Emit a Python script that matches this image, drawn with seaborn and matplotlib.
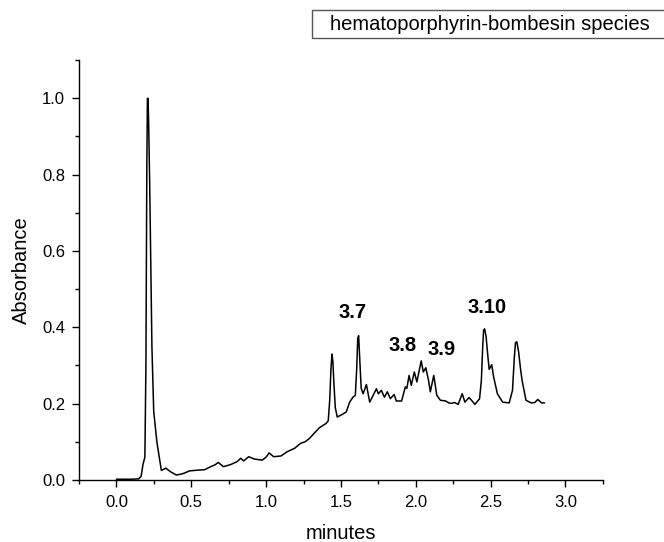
import matplotlib
matplotlib.use("Agg")
import matplotlib.pyplot as plt
import seaborn as sns
import pandas as pd
from matplotlib.patches import Rectangle
from matplotlib.ticker import MultipleLocator

minutes = [0.00, 0.10, 0.15, 0.165, 0.177, 0.19, 0.197, 0.203, 0.207, 0.211, 0.215, 0.222,
           0.229, 0.237, 0.249, 0.27, 0.29, 0.30, 0.315, 0.33, 0.36, 0.40, 0.44, 0.49, 0.55,
           0.59, 0.63, 0.66, 0.68, 0.715, 0.76, 0.806, 0.83, 0.85, 0.884, 0.92, 0.974, 1.00,
           1.02, 1.05, 1.10, 1.14, 1.19, 1.23, 1.26, 1.29, 1.32, 1.356, 1.40, 1.415, 1.425,
           1.433, 1.440, 1.446, 1.452, 1.462, 1.475, 1.50, 1.535, 1.558, 1.58, 1.596, 1.605,
           1.612, 1.618, 1.625, 1.635, 1.648, 1.67, 1.692, 1.715, 1.737, 1.75, 1.77, 1.79,
           1.81, 1.83, 1.855, 1.87, 1.905, 1.93, 1.94, 1.955, 1.97, 1.99, 2.007, 2.036, 2.05,
           2.067, 2.085, 2.097, 2.12, 2.14, 2.164, 2.20, 2.22, 2.24, 2.26, 2.283, 2.31, 2.328,
           2.355, 2.37, 2.395, 2.426, 2.438, 2.447, 2.453, 2.460, 2.47, 2.48, 2.49, 2.507,
           2.52, 2.545, 2.58, 2.624, 2.646, 2.658, 2.666, 2.675, 2.687, 2.70, 2.71, 2.736,
           2.77, 2.795, 2.815, 2.84, 2.86]
absorbance = [0.002, 0.002, 0.003, 0.01, 0.04, 0.06, 0.30, 0.82, 1.00, 1.00, 0.94, 0.78,
              0.57, 0.35, 0.18, 0.10, 0.05, 0.025, 0.028, 0.031, 0.022, 0.013, 0.016, 0.024,
              0.026, 0.027, 0.035, 0.040, 0.046, 0.035, 0.040, 0.048, 0.057, 0.050, 0.061,
              0.055, 0.052, 0.060, 0.071, 0.061, 0.063, 0.074, 0.083, 0.096, 0.100, 0.109,
              0.122, 0.137, 0.148, 0.155, 0.21, 0.29, 0.330, 0.31, 0.26, 0.19, 0.165, 0.170,
              0.178, 0.204, 0.217, 0.222, 0.29, 0.370, 0.378, 0.32, 0.24, 0.226, 0.25, 0.204,
              0.222, 0.239, 0.226, 0.235, 0.217, 0.231, 0.213, 0.224, 0.207, 0.207, 0.244,
              0.240, 0.274, 0.248, 0.283, 0.257, 0.312, 0.283, 0.294, 0.261, 0.231, 0.274,
              0.222, 0.209, 0.207, 0.202, 0.201, 0.203, 0.198, 0.226, 0.204, 0.216, 0.210,
              0.198, 0.213, 0.261, 0.35, 0.393, 0.396, 0.374, 0.33, 0.29, 0.302, 0.27, 0.226,
              0.204, 0.202, 0.235, 0.32, 0.360, 0.362, 0.335, 0.29, 0.261, 0.209, 0.202, 0.203,
              0.211, 0.202, 0.202]

peak_labels = ["3.7", "3.8", "3.9", "3.10"]
peak_label_x = [1.576, 1.91, 2.175, 2.478]
peak_label_y = [0.438, 0.352, 0.341, 0.451]

legend_text = "hematoporphyrin-bombesin species"
x_ticks = [0.0, 0.5, 1.0, 1.5, 2.0, 2.5, 3.0]
y_ticks = [0.0, 0.2, 0.4, 0.6, 0.8, 1.0]

sns.set_style("ticks")
plt.rcParams["font.family"] = ["Liberation Sans", "DejaVu Sans"]
plt.rcParams["text.color"] = "black"
plt.rcParams["axes.labelcolor"] = "black"
plt.rcParams["xtick.color"] = "black"
plt.rcParams["ytick.color"] = "black"

fig = plt.figure(figsize=(6.64, 5.42), dpi=100)
ax = fig.add_axes([0.119, 0.1144, 0.789, 0.7746])

df = pd.DataFrame({"minutes": minutes, "Absorbance": absorbance})
sns.lineplot(data=df, x="minutes", y="Absorbance", color="black", lw=1.1,
             sort=False, estimator=None, ax=ax)

ax.set_xlim(-0.25, 3.25)
ax.set_ylim(0.0, 1.1)
ax.set_xticks(x_ticks)
ax.set_yticks(y_ticks)
ax.set_xticklabels([f"{v:.1f}" for v in x_ticks])
ax.set_yticklabels([f"{v:.1f}" for v in y_ticks])
ax.xaxis.set_minor_locator(MultipleLocator(0.25))
ax.yaxis.set_minor_locator(MultipleLocator(0.1))
ax.tick_params(axis="both", which="major", direction="out", length=5, width=1,
               labelsize=12, colors="black")
ax.tick_params(axis="x", which="major", pad=6)
ax.tick_params(axis="y", which="major", pad=5)
ax.tick_params(axis="both", which="minor", direction="out", length=3, width=1)
for s in ["top", "right"]:
    ax.spines[s].set_visible(False)
for s in ["left", "bottom"]:
    ax.spines[s].set_linewidth(1.0)
    ax.spines[s].set_color("black")
ax.set_xlabel("minutes", fontsize=14.5, labelpad=10)
ax.set_ylabel("Absorbance", fontsize=14.5, labelpad=8)

for lab, lx, ly in zip(peak_labels, peak_label_x, peak_label_y):
    ax.text(lx, ly, lab, ha="center", va="center", fontsize=14.5, fontweight="bold")

# legend box at top right (extends past figure edge)
fig.patches.append(Rectangle((312 / 664, 1 - 38 / 542), 0.6, 28 / 542,
                             transform=fig.transFigure, fill=False,
                             edgecolor="#555555", lw=1.0))
fig.text(490 / 664, 1 - 24 / 542, legend_text, ha="center", va="center", fontsize=14.5)

fig.savefig("out.png", dpi=100)
